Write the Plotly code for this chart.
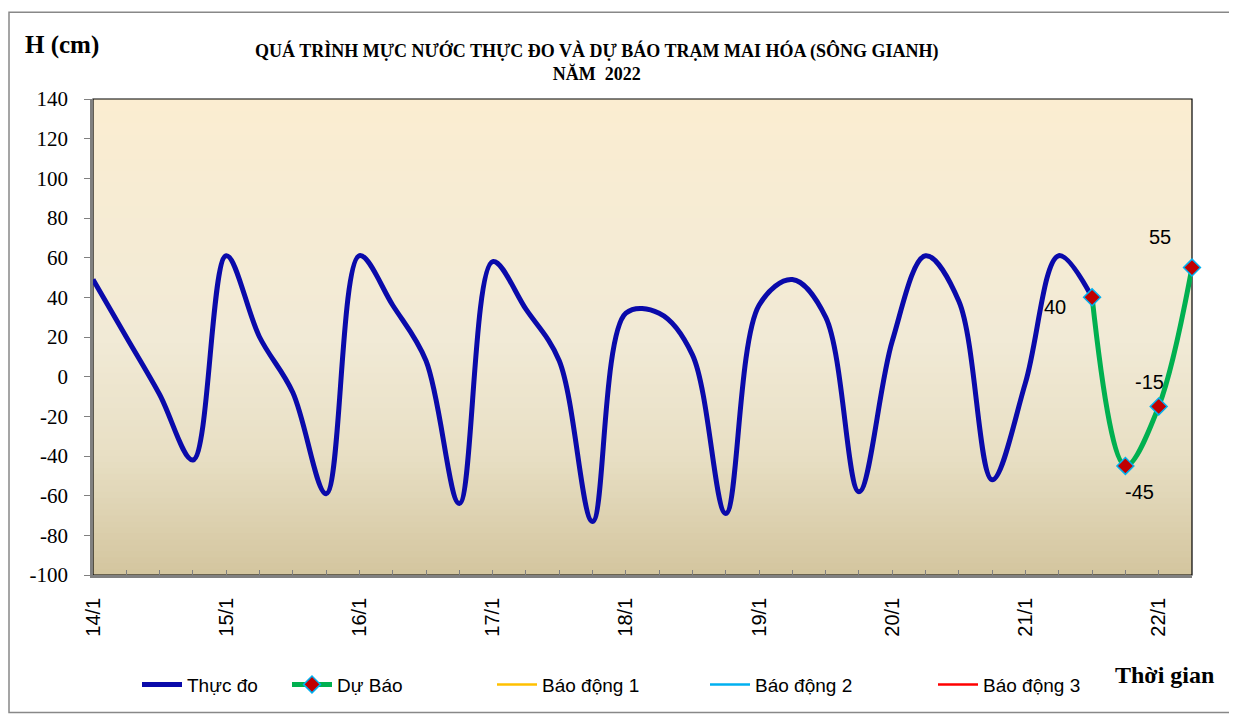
import plotly.graph_objects as go

# ---------------- data (6-hourly, 14/1 00h -> 22/1 06h) ----------------
day_labels = ["14/1", "15/1", "16/1", "17/1", "18/1", "19/1", "20/1", "21/1", "22/1"]
steps_per_day = 4
n_points = 34

observed = [49, 20, -9, -42, 61, 20, -8, -59, 61, 36, 8, -64, 58, 34, 8, -73,
            32, 32, 11, -69, 36, 49, 30, -58, 18, 61, 38, -52, -3, 61, 40]
forecast = [40, -45, -15, 55]
forecast_start = len(observed) - 1

y_ticks = [-100, -80, -60, -40, -20, 0, 20, 40, 60, 80, 100, 120, 140]

series_names = ["Thực đo", "Dự Báo", "Báo động 1", "Báo động 2", "Báo động 3"]

title_text = "QUÁ TRÌNH MỰC NƯỚC THỰC ĐO VÀ DỰ BÁO TRẠM MAI HÓA (SÔNG GIANH)<br>NĂM  2022"
y_title = "H (cm)"
x_title = "Thời gian"

# ---------------- geometry ----------------
OFF = 8  # page body margin
W, H = 1237 - OFF, 716 - OFF
ML, MR, MT, MB = 85, 45, 91, 139
PW, PH = W - ML - MR, H - MT - MB


def px_x(s):
    return (s - OFF - ML) / PW


def px_y(s):
    return (H - MB - (s - OFF)) / PH


x_all = list(range(n_points))
x_obs = x_all[:len(observed)]
x_fc = x_all[forecast_start:forecast_start + len(forecast)]

fig = go.Figure()

fig.add_trace(go.Scatter(
    x=x_obs, y=observed, mode="lines", name=series_names[0],
    line=dict(color="#0A0AAA", width=5, shape="spline", smoothing=1.0),
    legend="legend",
))
fig.add_trace(go.Scatter(
    x=x_fc, y=forecast, mode="lines+markers", name=series_names[1],
    line=dict(color="#00B050", width=5, shape="spline", smoothing=1.0),
    marker=dict(symbol="diamond", size=13, color="#C00000",
                line=dict(color="#00B0F0", width=1.5)),
    cliponaxis=False,
    legend="legend2",
))
alarm_colors = ["#FFC000", "#00B0F0", "#FF0000"]
for k, c in enumerate(alarm_colors):
    fig.add_trace(go.Scatter(
        x=x_all, y=[None] * n_points, mode="lines", name=series_names[2 + k],
        line=dict(color=c, width=2.5),
        legend="legend%d" % (3 + k),
    ))

# ---------------- background gradient (plot area) ----------------
stops = [(0.0, (211, 197, 158)), (0.25, (232, 223, 196)), (0.5, (241, 234, 214)), (1.0, (251, 237, 209))]


def grad(t):
    for (t0, c0), (t1, c1) in zip(stops[:-1], stops[1:]):
        if t0 <= t <= t1:
            f = (t - t0) / (t1 - t0)
            return "rgb(%d,%d,%d)" % tuple(round(a + (b - a) * f) for a, b in zip(c0, c1))
    return "rgb(%d,%d,%d)" % stops[-1][1]


shapes = []
nstr = 80
for i in range(nstr):
    y0 = i / nstr
    y1 = (i + 1) / nstr
    shapes.append(dict(type="rect", xref="paper", yref="paper", x0=0, x1=1, y0=y0, y1=min(1, y1 + 0.002),
                       fillcolor=grad((y0 + y1) / 2), line=dict(width=0), layer="below"))
shapes.append(dict(type="rect", xref="paper", yref="paper", x0=0, x1=1, y0=0, y1=1,
                   line=dict(color="#000000", width=1.2), layer="below"))
# outer chart frame
shapes.append(dict(type="rect", xref="paper", yref="paper",
                   x0=px_x(9), x1=px_x(1233), y0=px_y(715), y1=px_y(12),
                   line=dict(color="#888888", width=1.5), layer="below"))

tickvals = x_all
ticktext = [day_labels[i // steps_per_day] if i % steps_per_day == 0 else "" for i in x_all]

# data labels of the forecast points
label_shifts = [(-37, -10), (14, -26), (-9, 24), (-32, 31)]
annotations = []
for xi, v, (dx, dy) in zip(x_fc, forecast, label_shifts):
    annotations.append(dict(x=xi, y=v, xref="x", yref="y", text=str(v), showarrow=False,
                            xshift=dx, yshift=dy, xanchor="center", yanchor="middle",
                            font=dict(family="Liberation Sans, Arial", size=20, color="#000000")))

annotations += [
    dict(text="<b>%s</b>" % title_text, xref="paper", yref="paper", x=px_x(597), y=px_y(62),
         xanchor="center", yanchor="middle", showarrow=False,
         font=dict(family="Liberation Serif, Times New Roman", size=18, color="#000000")),
    dict(text="<b>%s</b>" % y_title, xref="paper", yref="paper", x=px_x(62), y=px_y(45),
         xanchor="center", yanchor="middle", showarrow=False,
         font=dict(family="Liberation Serif, Times New Roman", size=25, color="#000000")),
    dict(text="<b>%s</b>" % x_title, xref="paper", yref="paper", x=px_x(1164), y=px_y(677),
         xanchor="center", yanchor="middle", showarrow=False,
         font=dict(family="Liberation Serif, Times New Roman", size=24, color="#000000")),
]

legend_font = dict(family="Liberation Sans, Arial", size=19, color="#000000")
legend_starts = [137, 287, 492, 705, 933]
legend_y = px_y(687)
legend_common = dict(orientation="h", yanchor="middle", xanchor="left", font=legend_font,
                     bgcolor="rgba(0,0,0,0)", borderwidth=0, itemwidth=40)

layout_legends = {}
for k, s in enumerate(legend_starts):
    key = "legend" if k == 0 else "legend%d" % (k + 1)
    layout_legends[key] = dict(x=px_x(s), y=legend_y, **legend_common)

fig.update_layout(
    width=W, height=H,
    margin=dict(l=ML, r=MR, t=MT, b=MB, pad=0),
    paper_bgcolor="#FFFFFF",
    plot_bgcolor="rgba(0,0,0,0)",
    showlegend=True,
    shapes=shapes,
    xaxis=dict(
        range=[0, n_points - 1], tickmode="array", tickvals=tickvals, ticktext=ticktext,
        tickangle=-90, ticks="inside", ticklen=5, tickcolor="#808080", tickwidth=1,
        showline=True, linecolor="#808080", linewidth=2.5, showgrid=False, zeroline=False,
        tickfont=dict(family="Liberation Sans, Arial", size=20, color="#000000"),
        ticklabelstandoff=12,
    ),
    yaxis=dict(
        range=[-100, 140], tickmode="array", tickvals=y_ticks, ticktext=[str(v) for v in y_ticks],
        ticks="outside", ticklen=6, tickcolor="#808080",
        showline=True, linecolor="#808080", linewidth=2.5, showgrid=False, zeroline=False,
        tickfont=dict(family="Liberation Serif, Times New Roman", size=21, color="#000000"),
        ticklabelstandoff=12,
    ),
    annotations=annotations,
    **layout_legends,
)

fig.write_html("out.html")
